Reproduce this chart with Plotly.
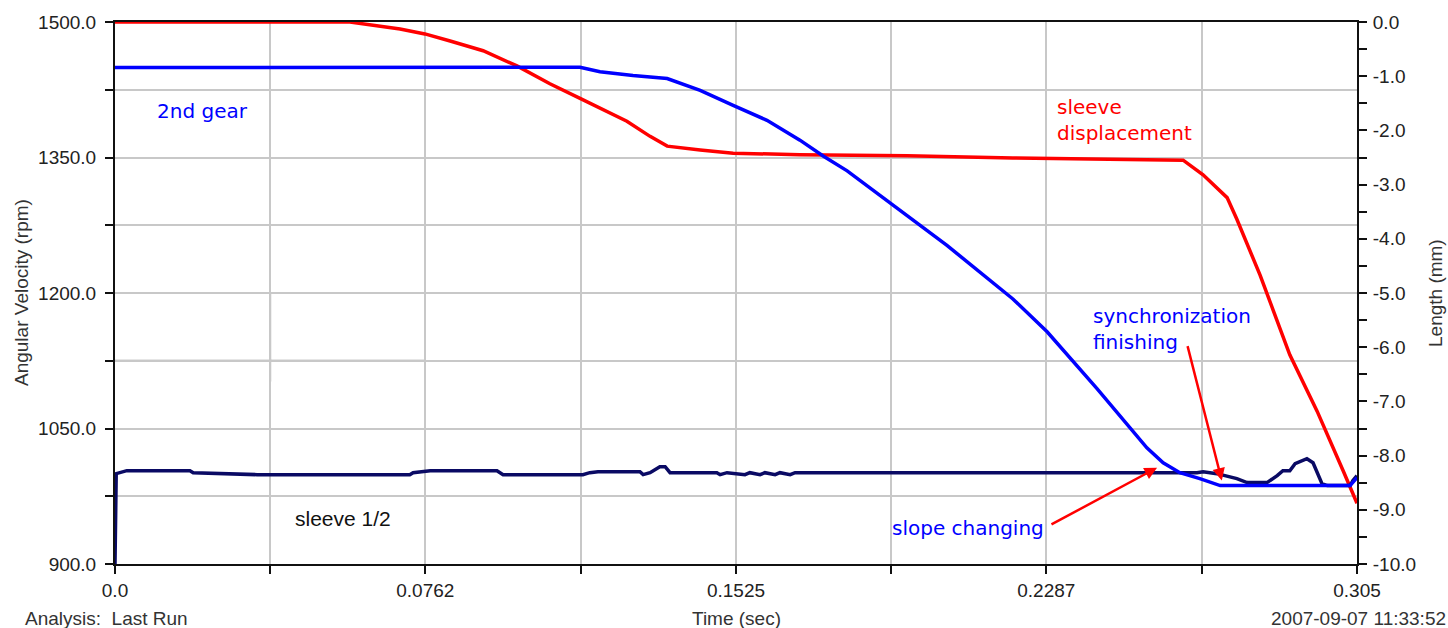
import plotly.graph_objects as go

# ---------------- data ----------------
# 2nd gear angular velocity (rpm, left axis)
gear_t = [0.0, 0.1142, 0.1191, 0.1272, 0.1356, 0.1437, 0.1518, 0.1601, 0.1682, 0.1739,
          0.1798, 0.1903, 0.2043, 0.2205, 0.2289, 0.2411, 0.2534, 0.2574, 0.2615, 0.2664,
          0.2714, 0.3033, 0.305]
gear_v = [1449.5, 1450.0, 1445.0, 1440.7, 1437.4, 1424.2, 1407.7, 1391.2, 1369.2, 1351.6,
          1335.2, 1300.0, 1252.7, 1193.4, 1157.1, 1094.5, 1028.6, 1012.1, 1001.1, 994.5,
          986.8, 986.8, 995.6]

# sleeve 1/2 angular velocity (rpm, left axis)
sleeve_t = [0.0, 0.0003, 0.0029, 0.0184, 0.0192, 0.0349, 0.0724, 0.0732, 0.0774, 0.0938,
            0.0953, 0.1149, 0.1166, 0.1186, 0.1289, 0.1297, 0.1314, 0.1338, 0.1351, 0.1363,
            0.1478, 0.1486, 0.1503, 0.1547, 0.1559, 0.1584, 0.1596, 0.1621, 0.1633, 0.1658,
            0.1670, 0.1694, 0.2657, 0.2672, 0.2706, 0.2755, 0.2780, 0.2829, 0.2854, 0.2868,
            0.2885, 0.2898, 0.2927, 0.2942, 0.2954, 0.2964, 0.2977, 0.3033, 0.3040, 0.305]
sleeve_v = [900.0, 1000.0, 1003.3, 1003.3, 1001.1, 998.9, 998.9, 1001.1, 1003.3, 1003.3,
            998.9, 998.9, 1001.1, 1002.2, 1002.2, 998.9, 1001.1, 1007.7, 1007.7, 1001.1,
            1001.1, 998.9, 1001.1, 998.9, 1001.1, 998.9, 1001.1, 998.9, 1001.1, 998.9,
            1001.1, 1001.1, 1001.1, 1002.2, 1000.0, 994.5, 990.1, 990.1, 997.8, 1003.3,
            1003.3, 1011.0, 1016.5, 1012.1, 1000.0, 989.0, 986.8, 986.8, 992.3, 997.8]

# sleeve displacement (mm, right axis)
disp_t = [0.0, 0.0577, 0.0700, 0.0761, 0.0823, 0.0904, 0.0987, 0.1068, 0.1142, 0.1257,
          0.1314, 0.1356, 0.1437, 0.1518, 0.1682, 0.1945, 0.2205, 0.2574, 0.2623, 0.2672,
          0.2731, 0.2755, 0.2812, 0.2885, 0.2952, 0.3016, 0.305]
disp_l = [0.0, 0.0, -0.13, -0.22, -0.35, -0.53, -0.81, -1.14, -1.41, -1.83,
          -2.11, -2.29, -2.36, -2.42, -2.45, -2.47, -2.51, -2.55, -2.55, -2.82,
          -3.24, -3.64, -4.67, -6.14, -7.18, -8.28, -8.88]

# ticks
x_tickvals = [0.0, 0.0381, 0.0762, 0.1144, 0.1525, 0.1906, 0.2287, 0.2669, 0.305]
x_ticktext = ["0.0", "", "0.0762", "", "0.1525", "", "0.2287", "", "0.305"]
rpm_tickvals = [900, 975, 1050, 1125, 1200, 1275, 1350, 1425, 1500]
rpm_ticktext = ["900.0", "", "1050.0", "", "1200.0", "", "1350.0", "", "1500.0"]
len_tickvals = [-10 + 0.5 * i for i in range(21)]
len_ticktext = [f"{v:.1f}" if v == int(v) else "" for v in len_tickvals]

# annotation labels
label_gear = "2nd gear"
label_disp = "sleeve<br>displacement"
label_sync = "synchronization<br>finishing"
label_slope = "slope changing"
label_sleeve = "sleeve 1/2"

# ---------------- figure ----------------
fig = go.Figure()

fig.add_trace(go.Scatter(x=disp_t, y=disp_l, mode="lines", yaxis="y",
                         line=dict(color="#FF0000", width=3.5), name="sleeve displacement"))
fig.add_trace(go.Scatter(x=sleeve_t, y=sleeve_v, mode="lines", yaxis="y2",
                         line=dict(color="#0A0A64", width=3.5), name="sleeve 1/2"))
fig.add_trace(go.Scatter(x=gear_t, y=gear_v, mode="lines", yaxis="y2",
                         line=dict(color="#0000FF", width=3.5), name="2nd gear"))

tickfont = dict(family="Liberation Sans, Arial, sans-serif", size=19, color="#222222")
titlefont = dict(family="Liberation Sans, Arial, sans-serif", size=19, color="#333333")
annfont = "DejaVu Sans, Verdana, sans-serif"

fig.update_layout(
    width=1448, height=628,
    margin=dict(l=115, r=91, t=18, b=64, pad=0),
    paper_bgcolor="white", plot_bgcolor="white",
    showlegend=False,
    xaxis=dict(range=[0, 0.305], tickvals=x_tickvals, ticktext=x_ticktext,
               showgrid=True, gridcolor="#C8C8C8", gridwidth=1.5, zeroline=False,
               showline=True, linecolor="#111111", linewidth=2, mirror=True,
               ticks="outside", ticklen=8, tickcolor="#111111", tickwidth=1.5,
               tickfont=tickfont, ticklabelstandoff=0, anchor="y"),
    yaxis=dict(range=[-10, 0], side="right", tickvals=len_tickvals, ticktext=len_ticktext,
               showgrid=False, zeroline=False,
               showline=True, linecolor="#111111", linewidth=2,
               ticks="outside", ticklen=8, tickcolor="#111111", tickwidth=1.5,
               tickfont=tickfont, ticklabelstandoff=2, anchor="x"),
    yaxis2=dict(range=[900, 1500], side="left", overlaying="y",
                tickvals=rpm_tickvals, ticktext=rpm_ticktext,
                showgrid=True, gridcolor="#C8C8C8", gridwidth=1.5, zeroline=False,
                showline=True, linecolor="#111111", linewidth=2,
                ticks="outside", ticklen=8, tickcolor="#111111", tickwidth=1.5,
                tickfont=tickfont, ticklabelstandoff=5, anchor="x"),
)

# stray guide lines visible in the original screenshot
fig.add_shape(type="line", xref="x", yref="y2", x0=0, x1=0.0523, y0=1200, y1=1200,
              line=dict(color="#555555", width=2), layer="below")
fig.add_shape(type="line", xref="x", yref="y2", x0=0, x1=0.0761, y0=1125, y1=1125,
              line=dict(color="#9A9A9A", width=2), layer="below")
fig.add_shape(type="line", xref="x", yref="y2", x0=0.0381, x1=0.0381, y0=1102, y1=1200,
              line=dict(color="#9A9A9A", width=2), layer="below")

# axis titles and footer
fig.add_annotation(text="Angular Velocity (rpm)", xref="paper", yref="paper", x=0, y=0.5,
                   xanchor="center", yanchor="middle",
                   xshift=-94, textangle=-90, showarrow=False, font=titlefont)
fig.add_annotation(text="Length (mm)", xref="paper", yref="paper", x=1, y=0.5,
                   xanchor="center", yanchor="middle",
                   xshift=78, textangle=-90, showarrow=False, font=titlefont)
fig.add_annotation(text="Time (sec)", xref="paper", yref="paper", x=0.5, y=0,
                   xanchor="center", yanchor="middle",
                   yshift=-54, showarrow=False, font=titlefont)
fig.add_annotation(text="Analysis:  Last Run", xref="paper", yref="paper", x=0, y=0,
                   xanchor="left", yanchor="middle",
                   xshift=-92, yshift=-54, showarrow=False, font=titlefont)
fig.add_annotation(text="2007-09-07 11:33:52", xref="paper", yref="paper", x=1, y=0,
                   xanchor="right", yanchor="middle",
                   xshift=91, yshift=-54, showarrow=False, font=titlefont)

# series labels
fig.add_annotation(text=label_gear, xref="x", yref="y2", x=0.0098, y=1401, xanchor="left",
                   showarrow=False, font=dict(family=annfont, size=20, color="#0000FF"))
fig.add_annotation(text=label_disp, xref="x", yref="y2", x=0.2308, y=1392, xanchor="left",
                   align="left", showarrow=False, font=dict(family=annfont, size=20, color="#FF0000"))
fig.add_annotation(text=label_sync, xref="x", yref="y2", x=0.2397, y=1160, xanchor="left",
                   align="left", showarrow=False, font=dict(family=annfont, size=20, color="#0000FF"))
fig.add_annotation(text=label_slope, xref="x", yref="y2", x=0.1903, y=940, xanchor="left",
                   showarrow=False, font=dict(family=annfont, size=20, color="#0000FF"))
fig.add_annotation(text=label_sleeve, xref="x", yref="y2", x=0.0437, y=950.5, xanchor="left",
                   showarrow=False,
                   font=dict(family="Liberation Sans, Arial, sans-serif", size=21, color="#111111"))

# arrows
fig.add_annotation(text="", xref="x", yref="y2", x=0.2559, y=1006.6,
                   axref="x", ayref="y2", ax=0.2296, ay=942.9,
                   showarrow=True, arrowhead=2, arrowsize=1, arrowwidth=2.5, arrowcolor="#FF0000")
fig.add_annotation(text="", xref="x", yref="y2", x=0.2718, y=992.3,
                   axref="x", ayref="y2", ax=0.2633, ay=1142.9,
                   showarrow=True, arrowhead=2, arrowsize=1, arrowwidth=2.5, arrowcolor="#FF0000")

fig.write_html("out.html")
